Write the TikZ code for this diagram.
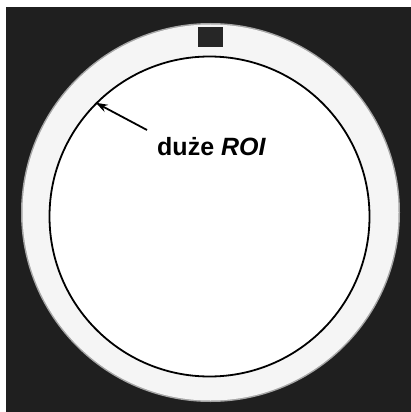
\documentclass[tikz,border=0pt]{standalone}
\usepackage{fontspec}
\setmainfont{Liberation Sans}
\usetikzlibrary{positioning, arrows.meta}

\begin{document}
\begin{tikzpicture}[x=1pt, y=-1pt,
  every node/.style={font=\bfseries\fontsize{25}{30}\selectfont},
  ring/.style={circle, inner sep=0pt, outer sep=0pt},
  roi/.style={circle, draw, line width=1.8pt, inner sep=0pt},
  marker/.style={rectangle, fill=black!85, inner sep=0pt, minimum width=25pt, minimum height=20pt},
  arr/.style={-{Stealth[length=12pt, width=8pt]}, line width=1.8pt}
]
  % frame
  \fill[white] (0,0) rectangle (411,412);
  \fill[black!88] (6,7) rectangle (411,412);
  \useasboundingbox (0,0) rectangle (411,412);

  % phantom, soft edge
  \node[ring, fill=black!35, minimum size=379pt] (edge) at (210.5,212.5) {};
  \node[ring, fill=black!4, minimum size=376pt] (phantom) at (edge) {};
  \node[ring, fill=white, minimum size=321pt] at (209.5,216.5) {};

  \node[marker] (mark) at (210.5,37) {};

  % big ROI
  \node[roi, minimum size=320pt] (roi) at (209.5,216.5) {};

  \node[anchor=base west, inner sep=0pt] (label) at (157,155) {duże \textit{ROI}};
  \coordinate (tail) at (147,130);
  \draw[arr] (tail) -- (roi.135);
\end{tikzpicture}
\end{document}
